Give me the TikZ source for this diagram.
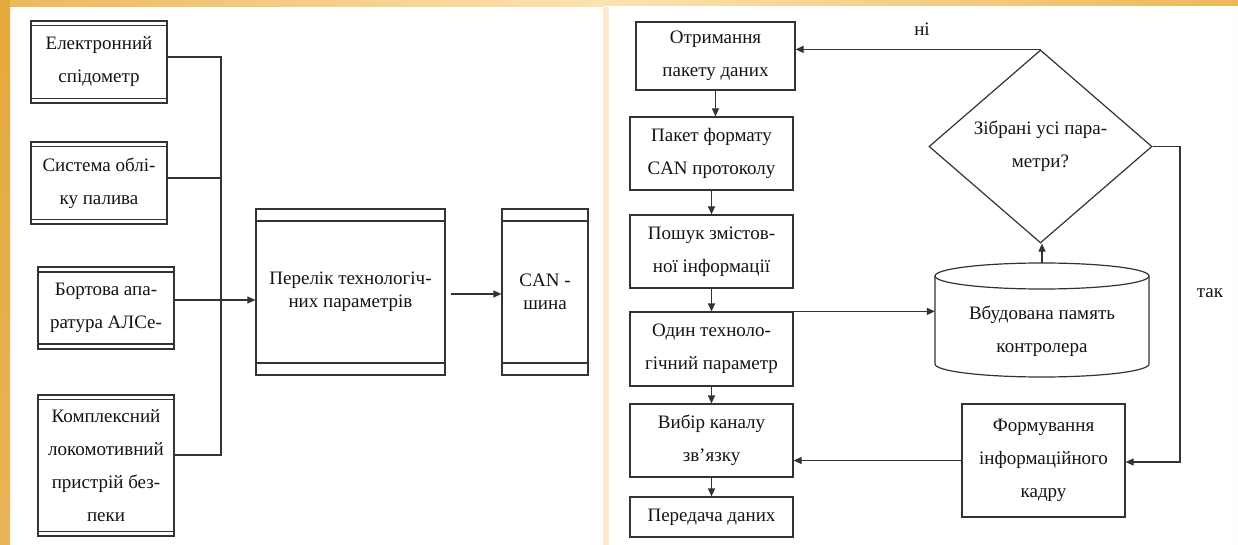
\documentclass[tikz,border=0pt]{standalone}
\usepackage{fontspec}
\setmainfont{Liberation Serif}
\usetikzlibrary{arrows.meta,shapes.geometric}
\definecolor{ink}{HTML}{333333}
\definecolor{txt}{HTML}{141414}
\definecolor{goldA}{HTML}{E4A83C}
\definecolor{goldB}{HTML}{ECB85A}
\definecolor{goldC}{HTML}{FCE2B2}
\definecolor{peach}{HTML}{FDEBD0}

\tikzset{
  base/.style={draw=ink, line width=1.2pt, text=txt, inner sep=0pt, align=center,
    font=\fontsize{19}{33}\selectfont},
  box/.style={base, rectangle},
  banded/.style={path picture={
    \draw[ink, line width=1.2pt]
      ([yshift=-#1]path picture bounding box.north west) -- ([yshift=-#1]path picture bounding box.north east)
      ([yshift=#1]path picture bounding box.south west) -- ([yshift=#1]path picture bounding box.south east);}},
  conn/.style={draw=ink, line width=1.2pt},
  arr/.style={conn, -{Triangle[length=8pt,width=7pt]}},
  lbl/.style={text=txt, inner sep=0pt, font=\fontsize{19}{33}\selectfont},
}

\begin{document}
\begin{tikzpicture}[x=1pt,y=-1pt]
\useasboundingbox (0,0) rectangle (1238,545);

% page background and gold frame
\fill[white] (0,0) rectangle (1238,545);
\shade[left color=goldB, right color=goldC] (0,0) rectangle (603,7);
\shade[left color=goldC, right color=goldB] (603,0) rectangle (1238,6);
\shade[top color=goldA, bottom color=goldA!85!white] (0,0) rectangle (10,545);
\fill[peach] (603,7) rectangle (609,545);
\fill[white!96!goldC] (1229,6) rectangle (1238,545);

% ---------- left scheme ----------
\node[box, banded=4.5pt, minimum width=136pt, minimum height=82pt] (b1) at (99,62) {Електронний\\спідометр};
\node[box, banded=4.5pt, minimum width=136pt, minimum height=82pt] (b2) at (99,183) {Система облі-\\ку палива};
\node[box, banded=5pt, minimum width=136pt, minimum height=82pt] (b3) at (106,308) {Бортова апа-\\ратура АЛСе-};
\node[box, banded=4.5pt, minimum width=136pt, minimum height=141pt] (b4) at (106,465.5) {Комплексний\\локомотивний\\пристрій без-\\пеки};
\node[box, banded=12pt, minimum width=189pt, minimum height=166pt,
      font=\fontsize{19}{23}\selectfont] (lst) at (350.5,292) {Перелік технологіч-\\них параметрів};
\node[box, banded=12pt, minimum width=86pt, minimum height=166pt,
      font=\fontsize{19}{23}\selectfont] (can) at (545,292) {CAN -\\шина};

\coordinate (bus) at (221,57);
\coordinate (b2o) at ([yshift=5pt]b2.east);
\coordinate (b3o) at ([yshift=8pt]b3.east);
\coordinate (b4o) at ([yshift=10.5pt]b4.east);
\coordinate (lsto) at ([xshift=5pt,yshift=-2pt]lst.east);
\draw[conn] ([yshift=5pt]b1.east) -- (bus) -- (bus |- b4o) -- (b4o);
\draw[conn] (b2o) -- (b2o -| bus);
\draw[arr] (b3o) -- (b3o -| lst.west);
\draw[arr] (lsto) -- (lsto -| can.west);

% ---------- right flowchart ----------
\node[box, minimum width=159pt, minimum height=68pt] (r1) at (715.5,56) {Отримання\\пакету даних};
\node[box, minimum width=163pt, minimum height=73pt] (r2) at (711.5,153.5) {Пакет формату\\CAN протоколу};
\node[box, minimum width=163pt, minimum height=73pt] (r3) at (711.5,251.5) {Пошук змістов-\\ної інформації};
\node[box, minimum width=163pt, minimum height=74pt] (r4) at (711.5,349) {Один техноло-\\гічний параметр};
\node[box, minimum width=163pt, minimum height=73pt] (r5) at (711.5,440.5) {Вибір каналу\\зв’язку};
\node[box, minimum width=163pt, minimum height=40pt] (r6) at (711.5,517) {Передача даних};
\node[box, minimum width=163pt, minimum height=113pt] (fm) at (1043.5,460.5) {Формування\\інформаційного\\кадру};

\node[base, diamond, minimum width=223pt, minimum height=193pt] (dec) at (1040.5,146.5) {Зібрані усі пара-\\метри?};

% storage cylinder
\node[inner sep=0pt, minimum width=214pt, minimum height=114pt] (mem) at (1042,320) {};
\draw[conn] (935,276) -- (935,364) arc[start angle=180, end angle=0, x radius=107, y radius=13] -- (1149,276);
\draw[conn] (1042,276) ellipse [x radius=107, y radius=13];
\node[lbl, align=center] (memtxt) at (1042,331) {Вбудована память\\контролера};

\node[lbl] (no) at (922,29) {ні};
\node[lbl] (yes) at (1210,293) {так};

\draw[arr] (r1.south) -- (r1.south |- r2.north);
\draw[arr] (r2.south) -- (r2.south |- r3.north);
\draw[arr] (r3.south) -- (r3.south |- r4.north);
\draw[arr] (r4.south) -- (r4.south |- r5.north);
\draw[arr] (r5.south) -- (r5.south |- r6.north);
\draw[arr] (r4.north east) -- (r4.north east -| mem.west);
\draw[arr] (mem.north) -- (mem.north |- dec.south);
\draw[arr] (dec.north) -- (dec.north -| r1.east);
\coordinate (yesx) at (1180,462);
\draw[arr] (dec.east) -| (yesx) -- (yesx -| fm.east);
\draw[arr] (fm.west) -- (fm.west -| r5.east);
\end{tikzpicture}
\end{document}
